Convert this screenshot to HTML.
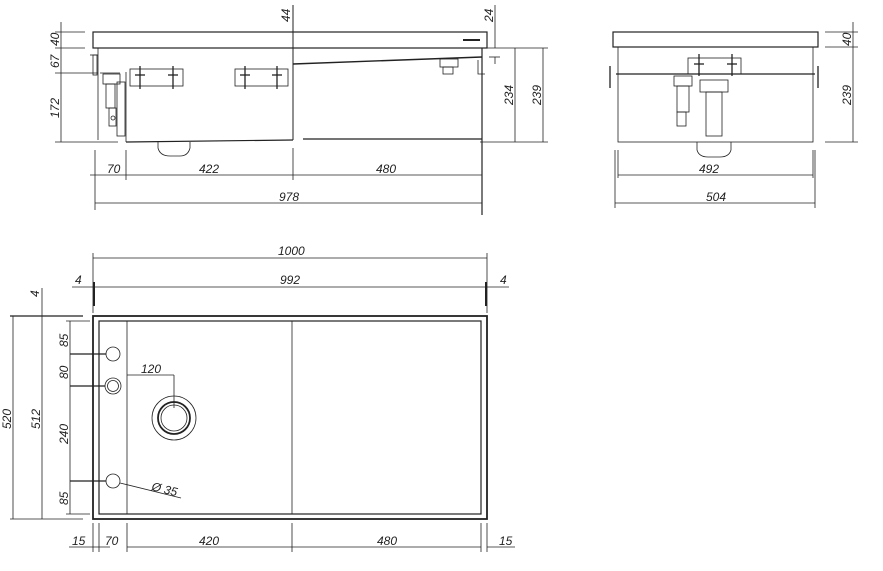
<!DOCTYPE html>
<html><head><meta charset="utf-8"><style>
html,body{margin:0;padding:0;background:#fff;}
svg{display:block;}
text{font-family:"Liberation Sans",sans-serif;font-style:italic;font-size:12px;fill:#222;}
</style></head><body>
<svg width="883" height="571" viewBox="0 0 883 571" xmlns="http://www.w3.org/2000/svg">
<g stroke="#222" fill="none" stroke-width="0.8">
<!-- FRONT VIEW -->
<rect x="93" y="32" width="394" height="16" stroke-width="1.2"/>
<line x1="463" y1="40" x2="480" y2="40" stroke-width="2"/>
<line x1="98" y1="48" x2="98" y2="140"/>
<line x1="126" y1="142" x2="293" y2="140" stroke-width="1.2"/>
<line x1="303" y1="139" x2="482" y2="139" stroke-width="1.2"/>
<line x1="482" y1="48" x2="482" y2="215" stroke-width="1.2"/>
<line x1="293" y1="5" x2="293" y2="140" stroke-width="1"/>
<line x1="293" y1="64" x2="482" y2="57" stroke-width="1.4"/>
<line x1="126" y1="72" x2="126" y2="142"/>
<line x1="100" y1="73" x2="120" y2="73"/>
<rect x="103" y="74" width="17" height="10"/>
<rect x="106" y="84" width="9" height="24"/>
<rect x="109" y="108" width="7" height="18"/>
<circle cx="113" cy="118" r="2"/>
<rect x="117" y="82" width="8" height="54"/>
<rect x="93" y="55" width="4" height="20"/>
<line x1="90" y1="55" x2="98" y2="55"/>
<rect x="130" y="69" width="53" height="17"/>
<rect x="235" y="69" width="53" height="17"/>
<g stroke-width="1.3">
<line x1="140" y1="66" x2="140" y2="89"/><line x1="173" y1="66" x2="173" y2="89"/>
<line x1="245" y1="66" x2="245" y2="89"/><line x1="277" y1="66" x2="277" y2="89"/>
<line x1="135" y1="75" x2="145" y2="75"/><line x1="168" y1="75" x2="178" y2="75"/>
<line x1="240" y1="75" x2="250" y2="75"/><line x1="272" y1="75" x2="282" y2="75"/>
</g>
<path d="M158 142 V148 Q160 156 170 156 H180 Q188 156 190 148 V142"/>
<rect x="440" y="59" width="18" height="8"/>
<rect x="443" y="67" width="10" height="7"/>
<path d="M478 60 V74 H485"/>
<!-- dims front -->
<line x1="55" y1="32" x2="85" y2="32"/><line x1="55" y1="48" x2="85" y2="48"/>
<line x1="61" y1="22" x2="61" y2="142"/>
<line x1="55" y1="73" x2="98" y2="73"/><line x1="55" y1="142" x2="118" y2="142"/>
<line x1="95" y1="150" x2="95" y2="210"/><line x1="126" y1="150" x2="126" y2="180"/>
<line x1="293" y1="148" x2="293" y2="180"/><line x1="482" y1="180" x2="482" y2="210"/>
<line x1="90" y1="175" x2="482" y2="175"/>
<line x1="95" y1="203" x2="482" y2="203"/>
<line x1="495" y1="5" x2="495" y2="48"/>
<line x1="487" y1="48" x2="548" y2="48"/>
<line x1="515" y1="48" x2="515" y2="142"/>
<line x1="543" y1="48" x2="543" y2="142"/>
<line x1="480" y1="142" x2="548" y2="142"/>
<line x1="495" y1="57" x2="495" y2="64"/><line x1="489" y1="57" x2="500" y2="57"/>
<!-- SIDE VIEW -->
<rect x="613" y="32" width="205" height="15" stroke-width="1.2"/>
<rect x="618" y="47" width="195" height="95"/>
<line x1="616" y1="74" x2="815" y2="74" stroke-width="1.2"/>
<rect x="688" y="58" width="53" height="16"/>
<g stroke-width="1.3">
<line x1="699" y1="54" x2="699" y2="76"/><line x1="732" y1="54" x2="732" y2="76"/>
<line x1="694" y1="64" x2="704" y2="64"/><line x1="727" y1="64" x2="737" y2="64"/>
<line x1="610" y1="66" x2="610" y2="88"/><line x1="818" y1="66" x2="818" y2="88"/>
</g>
<rect x="674" y="76" width="18" height="10"/>
<rect x="677" y="86" width="12" height="26"/>
<rect x="677" y="112" width="9" height="14"/>
<rect x="700" y="80" width="28" height="12"/>
<rect x="706" y="92" width="16" height="44"/>
<path d="M697 142 V150 Q699 157 708 157 H720 Q729 157 731 150 V142"/>
<line x1="618" y1="150" x2="618" y2="178"/><line x1="813" y1="150" x2="813" y2="178"/>
<line x1="618" y1="175" x2="813" y2="175"/>
<line x1="615" y1="150" x2="615" y2="208"/><line x1="815" y1="150" x2="815" y2="208"/>
<line x1="615" y1="203" x2="815" y2="203"/>
<line x1="825" y1="32" x2="858" y2="32"/><line x1="825" y1="47" x2="858" y2="47"/>
<line x1="825" y1="142" x2="858" y2="142"/>
<line x1="853" y1="22" x2="853" y2="142"/>
<!-- TOP VIEW -->
<rect x="93" y="316" width="394" height="203" stroke-width="1.8"/>
<rect x="99" y="321" width="382" height="193" stroke-width="1.2"/>
<line x1="127" y1="321" x2="127" y2="514"/>
<line x1="292" y1="321" x2="292" y2="514"/>
<circle cx="113" cy="354" r="7"/>
<circle cx="113" cy="386" r="8"/><circle cx="113" cy="386" r="5.5"/>
<circle cx="113" cy="481" r="7"/>
<circle cx="174" cy="418" r="22"/>
<circle cx="174" cy="418" r="16" stroke-width="1.8"/>
<circle cx="174" cy="418" r="13"/>
<line x1="127" y1="375" x2="174" y2="375"/><line x1="174" y1="375" x2="174" y2="408"/>
<line x1="120" y1="483" x2="181" y2="498"/>
<line x1="70" y1="354" x2="106" y2="354" stroke-width="1.2"/>
<line x1="70" y1="386" x2="105" y2="386" stroke-width="1.2"/>
<line x1="70" y1="481" x2="106" y2="481" stroke-width="1.2"/>
<line x1="70" y1="321" x2="70" y2="514"/>
<line x1="66" y1="321" x2="90" y2="321"/><line x1="66" y1="514" x2="90" y2="514"/>
<line x1="10" y1="316" x2="83" y2="316" stroke-width="1.2"/>
<line x1="10" y1="519" x2="83" y2="519"/>
<line x1="13" y1="316" x2="13" y2="519"/>
<line x1="42" y1="288" x2="42" y2="519"/>
<line x1="93" y1="253" x2="93" y2="313"/><line x1="487" y1="253" x2="487" y2="313"/>
<line x1="93" y1="258" x2="487" y2="258"/>
<line x1="72" y1="287" x2="509" y2="287"/>
<line x1="94" y1="282" x2="94" y2="306" stroke-width="2"/>
<line x1="486" y1="282" x2="486" y2="306" stroke-width="2"/>
<line x1="93" y1="523" x2="93" y2="552"/><line x1="99" y1="523" x2="99" y2="552"/>
<line x1="127" y1="523" x2="127" y2="552"/><line x1="292" y1="523" x2="292" y2="552"/>
<line x1="481" y1="523" x2="481" y2="552"/><line x1="487" y1="523" x2="487" y2="552"/>
<line x1="69" y1="547" x2="110" y2="547"/>
<line x1="127" y1="547" x2="481" y2="547"/>
<line x1="487" y1="547" x2="515" y2="547"/>
</g>
<!-- labels -->
<text x="107" y="173">70</text>
<text x="199" y="173">422</text>
<text x="376" y="173">480</text>
<text x="279" y="201">978</text>
<text x="699" y="173">492</text>
<text x="706" y="201">504</text>
<text transform="translate(59,46) rotate(-90)">40</text>
<text transform="translate(59,68) rotate(-90)">67</text>
<text transform="translate(59,118) rotate(-90)">172</text>
<text transform="translate(290,22) rotate(-90)">44</text>
<text transform="translate(493,22) rotate(-90)">24</text>
<text transform="translate(513,105) rotate(-90)">234</text>
<text transform="translate(541,105) rotate(-90)">239</text>
<text transform="translate(851,46) rotate(-90)">40</text>
<text transform="translate(851,105) rotate(-90)">239</text>
<text x="278" y="255">1000</text>
<text x="280" y="284">992</text>
<text x="75" y="284">4</text>
<text x="500" y="284">4</text>
<text transform="translate(39,297) rotate(-90)">4</text>
<text transform="translate(11,429) rotate(-90)">520</text>
<text transform="translate(40,429) rotate(-90)">512</text>
<text transform="translate(68,347) rotate(-90)">85</text>
<text transform="translate(68,379) rotate(-90)">80</text>
<text transform="translate(68,444) rotate(-90)">240</text>
<text transform="translate(68,505) rotate(-90)">85</text>
<text x="141" y="373">120</text>
<text x="151" y="490" transform="rotate(14,151,490)">Ø 35</text>
<text x="72" y="545">15</text>
<text x="105" y="545">70</text>
<text x="199" y="545">420</text>
<text x="377" y="545">480</text>
<text x="499" y="545">15</text>
</svg>
</body></html>
